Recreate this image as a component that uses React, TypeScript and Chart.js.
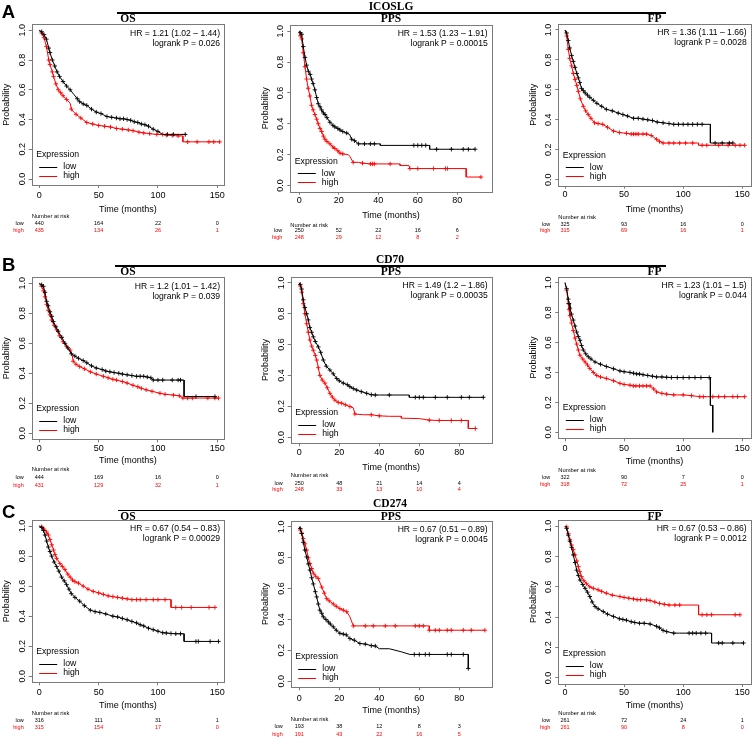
import React, { useEffect, useRef } from "react";
import { Chart, registerables } from "chart.js";
Chart.register(...registerables);

const SANS = "'Liberation Sans', Arial, Helvetica, sans-serif";
const SERIF = "'Liberation Serif', 'Times New Roman', serif";
const RED = "#ff0000";
const BLACK = "#000000";
const BOX_COLOR = "#7a7a7a";

// ---------------- data ----------------
const GENES = ["ICOSLG", "CD70", "CD274"];
const ENDPOINTS = ["OS", "PPS", "FP"];
const PANEL_LETTERS = ["A", "B", "C"];
const GROUPS = ["low", "high"];
const LEGEND_TITLE = "Expression";
const X_TITLE = "Time (months)";
const Y_TITLE = "Probability";
const RISK_TITLE = "Number at risk";
const Y_TICKS = [0, 0.2, 0.4, 0.6, 0.8, 1.0];
const X_TICKS_LONG = [0, 50, 100, 150];
const X_TICKS_PPS = [0, 20, 40, 60, 80];

// curves: [time, survival, censorMark(1)]
const ICOSLG_OS_LOW = [[0,1],[2,0.99,1],[4,0.97,1],[6,0.94,1],[8,0.88,1],[9,0.85,1],[11,0.8,1],[13,0.76,1],[15,0.72,1],[17,0.69,1],[20,0.655,1],[23,0.625,1],[26,0.6,1],[29,0.57],[32,0.54,1],[34,0.52,1],[37,0.505,1],[40,0.495,1],[44,0.47,1],[48,0.45,1],[52,0.44,1],[57,0.42,1],[61,0.415,1],[65,0.41,1],[68,0.405,1],[71,0.405,1],[74,0.4,1],[77,0.395,1],[80,0.385,1],[83,0.38,1],[86,0.37,1],[89,0.365,1],[92,0.355,1],[96,0.335,1],[100,0.32,1],[104,0.3],[108,0.3,1],[113,0.3,1],[118,0.3],[123,0.3,1]];
const ICOSLG_OS_HIGH = [[0,1],[2,0.98,1],[4,0.95,1],[6,0.89,1],[8,0.8,1],[9,0.77,1],[11,0.72,1],[12,0.69,1],[14,0.64,1],[16,0.6,1],[18,0.58,1],[20,0.56,1],[23,0.535,1],[26,0.51],[27,0.47,1],[29,0.45],[31,0.435,1],[35,0.41,1],[40,0.38,1],[45,0.37,1],[50,0.36,1],[55,0.355,1],[60,0.35,1],[65,0.34,1],[70,0.335,1],[75,0.33,1],[79,0.325,1],[84,0.315,1],[88,0.31,1],[93,0.305,1],[99,0.3,1],[104,0.3,1],[107,0.295,1],[112,0.293,1],[117,0.29,1],[121,0.29],[121,0.25],[125,0.25,1],[133,0.25,1],[143,0.25,1],[147,0.25,1],[152,0.25,1]];
const ICOSLG_PPS_LOW = [[0,1],[0.5,0.99,1],[1.2,0.98,1],[2,0.9,1],[2.9,0.83,1],[3.7,0.78,1],[4.6,0.74,1],[5.5,0.72,1],[6.2,0.69,1],[7,0.66,1],[7.9,0.62,1],[8.8,0.57,1],[9.6,0.53,1],[10.5,0.51,1],[11.3,0.49,1],[12.2,0.47,1],[13,0.46,1],[14,0.44,1],[15.5,0.41,1],[17,0.39,1],[18,0.38,1],[19.5,0.37,1],[20.6,0.36,1],[22,0.35,1],[24,0.34,1],[25.5,0.33],[26.5,0.3,1],[28,0.29,1],[30,0.27,1],[33,0.27,1],[36,0.27,1],[38,0.27,1],[41,0.27],[41,0.26],[58,0.26,1],[60,0.26,1],[62,0.26,1],[64,0.26,1],[66,0.26],[66,0.235],[69.5,0.235,1],[77,0.235,1],[83,0.235,1],[85.6,0.235,1],[89,0.235,1]];
const ICOSLG_PPS_HIGH = [[0,1],[0.5,0.97,1],[1.2,0.95,1],[2,0.86,1],[2.9,0.77,1],[3.7,0.69,1],[4.5,0.63,1],[5.4,0.58,1],[6.2,0.52,1],[7,0.49,1],[7.9,0.46,1],[8.8,0.43,1],[9.6,0.4,1],[10.5,0.37,1],[11.3,0.35,1],[12.2,0.32,1],[13,0.3,1],[14,0.285,1],[15.5,0.27,1],[17,0.25,1],[18,0.24,1],[19.5,0.225,1],[20.6,0.21,1],[22,0.205,1],[24.8,0.2],[25.5,0.19],[27.3,0.15,1],[30,0.15],[32,0.145,1],[36,0.14,1],[37,0.14,1],[38,0.14,1],[46,0.14,1],[51,0.14],[51,0.13],[55.5,0.13],[56,0.11,1],[60,0.11,1],[68,0.11,1],[74,0.11,1],[75,0.11,1],[84.5,0.11],[84.5,0.055],[92,0.055,1]];
const ICOSLG_FP_LOW = [[0,1],[1.4,0.98,1],[2.8,0.93,1],[4,0.88,1],[5.6,0.83,1],[7,0.79,1],[8.5,0.75,1],[10,0.71,1],[11.3,0.68,1],[12.5,0.65,1],[14,0.61,1],[15.5,0.595,1],[17,0.58,1],[19,0.565,1],[21,0.55,1],[24,0.53,1],[27,0.51,1],[31,0.49,1],[35,0.47,1],[40,0.46,1],[45,0.445,1],[49,0.435,1],[53,0.425,1],[58,0.41,1],[62,0.41,1],[66,0.405,1],[70,0.4,1],[74,0.395,1],[78,0.385,1],[83,0.38,1],[88,0.375,1],[92,0.37,1],[96,0.37,1],[100,0.37,1],[104,0.37,1],[108,0.37,1],[112,0.37,1],[116,0.37,1],[123,0.37],[123,0.245],[127,0.245,1],[133,0.245,1],[139,0.245,1],[142,0.245,1]];
const ICOSLG_FP_HIGH = [[0,1],[1.4,0.96,1],[2.8,0.87,1],[4,0.81,1],[5.6,0.76,1],[7,0.71,1],[8.5,0.67,1],[10,0.63,1],[11.3,0.59,1],[13,0.54,1],[15.5,0.49,1],[17.5,0.46,1],[19.7,0.435,1],[22,0.41,1],[25,0.38,1],[28,0.375,1],[32,0.37,1],[36,0.35,1],[41,0.325,1],[46,0.315,1],[52,0.31,1],[56,0.305,1],[58,0.305,1],[60,0.305,1],[62,0.305,1],[66,0.305,1],[69,0.305,1],[73,0.295,1],[77.5,0.27,1],[80,0.255,1],[83,0.245,1],[88,0.245,1],[92,0.245,1],[97,0.245,1],[102,0.245,1],[108,0.245,1],[113,0.245],[113,0.23],[116,0.23,1],[120,0.23,1],[130,0.23,1],[138,0.23,1],[144,0.23,1],[148,0.23,1],[152,0.23,1]];

const CD70_OS_LOW = [[0,1],[2,0.99,1],[3.5,0.98,1],[4.8,0.94,1],[6.2,0.88,1],[7.5,0.85,1],[9,0.81,1],[10.5,0.78,1],[11.8,0.745,1],[14,0.71,1],[16,0.68,1],[19,0.64,1],[21.6,0.6,1],[24,0.57,1],[27,0.53,1],[30,0.515,1],[33,0.5,1],[37,0.485,1],[40,0.47,1],[44,0.45,1],[48,0.435,1],[53,0.425,1],[56,0.415,1],[59.5,0.41,1],[63,0.405,1],[67,0.4,1],[70,0.395,1],[74,0.39,1],[78,0.385,1],[82,0.38,1],[85,0.38,1],[88,0.38,1],[91,0.375,1],[94,0.37,1],[96,0.355,1],[100,0.355,1],[104,0.355,1],[112,0.355,1],[117,0.355,1],[119,0.355,1],[122,0.355],[122,0.245],[132,0.245,1],[148,0.245,1]];
const CD70_OS_HIGH = [[0,1],[2,0.98,1],[3.5,0.95,1],[4.8,0.91,1],[6.2,0.86,1],[7.6,0.82,1],[9,0.79,1],[10.4,0.755,1],[12.5,0.72,1],[14.6,0.69,1],[17,0.65,1],[20,0.61,1],[23,0.58,1],[26,0.555,1],[27.5,0.53],[28.6,0.48,1],[31,0.46,1],[34,0.445,1],[38,0.43,1],[43,0.41,1],[48,0.395,1],[54,0.38,1],[58,0.37,1],[62,0.36,1],[65,0.355,1],[70,0.345,1],[74,0.335,1],[79,0.32,1],[83,0.31,1],[86,0.3,1],[90,0.29,1],[95,0.28,1],[101.7,0.267,1],[106,0.26,1],[113,0.255,1],[118,0.25,1],[121,0.235,1],[125,0.235,1],[129,0.235,1],[142,0.235,1],[148,0.235,1],[151,0.235,1]];
const CD70_PPS_LOW = [[0,1],[0.5,0.99,1],[1.2,0.96,1],[2,0.89,1],[2.8,0.84,1],[3.7,0.8,1],[4.5,0.76,1],[5.3,0.71,1],[6.2,0.68,1],[7,0.65,1],[8,0.62,1],[9.5,0.585,1],[10.7,0.55,1],[12,0.5,1],[13.5,0.46,1],[15.3,0.435,1],[17,0.41,1],[18.7,0.38,1],[20,0.365,1],[22,0.35,1],[24,0.34,1],[25.3,0.327,1],[27,0.315,1],[28.7,0.305,1],[31,0.295,1],[33.7,0.284,1],[36,0.275,1],[38,0.273,1],[40,0.273],[45,0.273,1],[55,0.273],[55,0.258],[58,0.258,1],[60,0.258,1],[62,0.258,1],[68,0.258,1],[74,0.258,1],[81,0.258,1],[85,0.258,1],[92,0.258,1]];
const CD70_PPS_HIGH = [[0,1],[0.5,0.98,1],[1.2,0.94,1],[2,0.865,1],[2.8,0.8,1],[3.7,0.735,1],[4.5,0.68,1],[5.3,0.63,1],[6.2,0.59,1],[7,0.563,1],[8,0.53,1],[8.7,0.5,1],[9.5,0.45,1],[10.3,0.4,1],[11.5,0.37,1],[12.8,0.35,1],[14,0.32,1],[15.3,0.284,1],[16.5,0.26,1],[17.8,0.24,1],[19.5,0.225,1],[21.2,0.22,1],[23,0.21,1],[25.3,0.198,1],[27,0.19],[27.8,0.15,1],[32,0.145],[36,0.145,1],[40,0.138,1],[45,0.135],[51,0.135],[51,0.123],[60,0.12],[65,0.11,1],[70,0.108,1],[76,0.108,1],[81,0.108,1],[84.5,0.108],[84.5,0.056],[88,0.056,1]];
const CD70_FP_LOW = [[0,1],[1.4,0.96,1],[2.8,0.89,1],[3.5,0.86,1],[4.2,0.83,1],[5.5,0.79,1],[7,0.75,1],[8.5,0.71,1],[9.9,0.67,1],[11.3,0.64,1],[12.7,0.615,1],[14,0.58,1],[15.5,0.55,1],[17.5,0.525,1],[19.7,0.505,1],[22,0.49,1],[25.4,0.47,1],[30,0.455,1],[35,0.44,1],[41,0.425,1],[46.5,0.41,1],[50,0.405,1],[55,0.4,1],[58,0.395,1],[60.6,0.39,1],[63,0.39,1],[66,0.385,1],[70,0.38,1],[74,0.375,1],[77.5,0.37,1],[82,0.37,1],[86,0.368,1],[90,0.366,1],[95,0.366,1],[100,0.366,1],[105,0.366,1],[110,0.366,1],[115,0.366,1],[122,0.366,1],[123,0.366],[123,0.18],[125,0.18],[125,0]];
const CD70_FP_HIGH = [[0,1],[1.4,0.95,1],[2.8,0.86,1],[3.5,0.82,1],[4.2,0.78,1],[5.5,0.73,1],[7,0.68,1],[8.5,0.63,1],[9.9,0.59,1],[11.3,0.55,1],[12.7,0.515,1],[15,0.49,1],[17,0.47,1],[19,0.45,1],[21,0.427,1],[24,0.4,1],[26.8,0.38,1],[30,0.37,1],[35,0.36,1],[41,0.345,1],[46.5,0.327,1],[50,0.32,1],[55,0.315,1],[57.8,0.31,1],[60,0.31,1],[63,0.31,1],[66,0.31,1],[69,0.31,1],[72,0.31,1],[75,0.29,1],[77.5,0.27,1],[82,0.26,1],[86,0.255,1],[92,0.25,1],[100,0.25,1],[107,0.245,1],[112,0.24],[114,0.238,1],[117,0.238,1],[125,0.238,1],[130,0.238,1],[135,0.238,1],[142,0.238,1],[146,0.238,1],[152,0.238,1]];

const CD274_OS_LOW = [[0,1],[2,0.99,1],[3.5,0.97,1],[4.8,0.94,1],[6.2,0.9,1],[7.6,0.86,1],[9,0.83,1],[10.4,0.8,1],[12.5,0.76,1],[14.6,0.73,1],[16.5,0.7,1],[18.8,0.66,1],[21,0.635,1],[23,0.61,1],[25,0.58,1],[27,0.55,1],[30,0.525,1],[34,0.5,1],[38,0.47,1],[43,0.44,1],[47,0.43,1],[51,0.425,1],[56,0.415,1],[62,0.4,1],[66,0.395,1],[70,0.385,1],[74,0.376,1],[78,0.365,1],[82,0.355,1],[85,0.343,1],[88,0.335,1],[92,0.32,1],[96,0.31,1],[100,0.3,1],[104,0.29,1],[107,0.288,1],[111,0.285,1],[115,0.283,1],[119,0.283,1],[122,0.283],[122,0.232],[132,0.232,1],[134,0.232,1],[144,0.232,1],[151,0.232,1]];
const CD274_OS_HIGH = [[0,1],[2,0.995,1],[4,0.98,1],[6.2,0.96,1],[7.6,0.94,1],[9,0.91,1],[10.5,0.875,1],[12,0.84,1],[13.3,0.81,1],[14.6,0.785,1],[17.4,0.75,1],[19.5,0.73,1],[21.6,0.71,1],[24,0.68,1],[26,0.66,1],[28,0.64,1],[30,0.63,1],[33,0.62,1],[37,0.6,1],[41,0.58,1],[45.5,0.565,1],[50,0.555,1],[54,0.545,1],[58,0.535,1],[62,0.53,1],[66,0.525,1],[70,0.52,1],[74,0.515,1],[78,0.51,1],[82,0.51,1],[85,0.51,1],[90,0.51,1],[96,0.51,1],[100,0.51,1],[106,0.51,1],[111,0.51],[111,0.458],[115,0.458,1],[120,0.458,1],[128,0.458,1],[143,0.458,1],[148,0.458,1]];
const CD274_PPS_LOW = [[0,1],[0.5,0.99,1],[1.2,0.957,1],[2,0.9,1],[2.8,0.85,1],[3.7,0.805,1],[4.5,0.76,1],[5.3,0.72,1],[6.2,0.67,1],[7,0.63,1],[8,0.58,1],[8.7,0.546,1],[9.5,0.5,1],[10.3,0.46,1],[11.2,0.44,1],[12,0.417,1],[13.3,0.4,1],[14.5,0.384,1],[15.5,0.37,1],[17,0.352,1],[18.5,0.33,1],[20.3,0.31,1],[22,0.305,1],[23.5,0.3,1],[25.3,0.276,1],[27.5,0.265,1],[30.3,0.244,1],[33,0.24,1],[36,0.23,1],[38,0.228,1],[40,0.21],[45,0.21],[51,0.19],[55.3,0.173],[57.5,0.173,1],[60,0.173,1],[63,0.173,1],[65,0.173,1],[74,0.173,1],[76,0.173,1],[82,0.173,1],[84.5,0.173],[84.5,0.082,1]];
const CD274_PPS_HIGH = [[0,1],[0.5,0.98,1],[1.2,0.96,1],[2,0.924,1],[2.8,0.89,1],[3.7,0.85,1],[4.5,0.8,1],[5.3,0.762,1],[6.2,0.73,1],[7,0.7,1],[8.2,0.68,1],[9.5,0.665,1],[11.2,0.61,1],[12.5,0.57,1],[13.7,0.535,1],[15,0.52,1],[17,0.5,1],[18.5,0.485,1],[20.3,0.47,1],[22,0.46,1],[23.7,0.45,1],[25.3,0.417],[27,0.358,1],[33,0.358,1],[37,0.358,1],[43,0.358,1],[48,0.358,1],[58,0.358,1],[60,0.358,1],[62,0.358,1],[65,0.358],[65,0.33,1],[68,0.33,1],[70,0.33,1],[74,0.33,1],[76,0.33,1],[82,0.33,1],[86,0.33,1],[92.8,0.33,1]];
const CD274_FP_LOW = [[0,1],[1.4,0.985,1],[2.8,0.94,1],[4.2,0.9,1],[5.5,0.86,1],[7,0.81,1],[8.5,0.76,1],[9.9,0.71,1],[11.3,0.675,1],[12.7,0.645,1],[15,0.615,1],[17,0.59,1],[19,0.565,1],[21,0.536,1],[23,0.5,1],[25.4,0.47,1],[28,0.455,1],[32.4,0.437,1],[36,0.42,1],[41,0.405,1],[46,0.39,1],[49,0.385,1],[52,0.38,1],[56,0.37,1],[59,0.365,1],[63,0.36,1],[67,0.36,1],[72,0.355,1],[77.5,0.34,1],[80,0.33,1],[83,0.313,1],[86,0.305,1],[92,0.295,1],[97,0.295],[105,0.295,1],[108,0.295,1],[111,0.295,1],[115,0.295,1],[119,0.295,1],[124,0.295],[124,0.23],[130,0.23,1],[133,0.23,1],[142,0.23,1],[151,0.23,1]];
const CD274_FP_HIGH = [[0,1],[1.4,0.995,1],[2.8,0.95,1],[4.2,0.91,1],[5.6,0.875,1],[7,0.845,1],[8.5,0.81,1],[10,0.77,1],[11.3,0.733,1],[12.5,0.7,1],[14,0.667,1],[16,0.64,1],[18.3,0.62,1],[21,0.6,1],[24,0.59,1],[28,0.58,1],[31,0.57,1],[35,0.558,1],[40,0.545,1],[46.5,0.536,1],[50,0.53,1],[54,0.525,1],[58,0.52,1],[61,0.515,1],[64,0.515,1],[69,0.514,1],[72,0.51,1],[76,0.5,1],[80,0.49,1],[84,0.485,1],[88,0.48,1],[93,0.48,1],[97,0.48,1],[113,0.48],[113,0.416],[116,0.416,1],[120,0.416,1],[124,0.416,1],[144,0.416,1],[148,0.416,1]];

// numbers at risk
const ICOSLG_OS_RISK_LOW = [440, 164, 22, 0];
const ICOSLG_OS_RISK_HIGH = [435, 134, 26, 1];
const ICOSLG_PPS_RISK_LOW = [250, 52, 22, 16, 6];
const ICOSLG_PPS_RISK_HIGH = [248, 29, 12, 8, 2];
const ICOSLG_FP_RISK_LOW = [325, 93, 16, 0];
const ICOSLG_FP_RISK_HIGH = [315, 69, 16, 1];
const CD70_OS_RISK_LOW = [444, 169, 16, 0];
const CD70_OS_RISK_HIGH = [431, 129, 32, 1];
const CD70_PPS_RISK_LOW = [250, 48, 21, 14, 4];
const CD70_PPS_RISK_HIGH = [248, 33, 13, 10, 4];
const CD70_FP_RISK_LOW = [322, 90, 7, 0];
const CD70_FP_RISK_HIGH = [318, 72, 25, 1];
const CD274_OS_RISK_LOW = [316, 111, 31, 1];
const CD274_OS_RISK_HIGH = [315, 154, 17, 0];
const CD274_PPS_RISK_LOW = [193, 38, 12, 8, 3];
const CD274_PPS_RISK_HIGH = [191, 43, 22, 16, 5];
const CD274_FP_RISK_LOW = [261, 72, 24, 1];
const CD274_FP_RISK_HIGH = [261, 90, 8, 0];

// statistics text
const ICOSLG_OS_STATS = ["HR = 1.21 (1.02 \u2013 1.44)", "logrank P = 0.026"];
const ICOSLG_PPS_STATS = ["HR = 1.53 (1.23 \u2013 1.91)", "logrank P = 0.00015"];
const ICOSLG_FP_STATS = ["HR = 1.36 (1.11 \u2013 1.66)", "logrank P = 0.0028"];
const CD70_OS_STATS = ["HR = 1.2 (1.01 \u2013 1.42)", "logrank P = 0.039"];
const CD70_PPS_STATS = ["HR = 1.49 (1.2 \u2013 1.86)", "logrank P = 0.00035"];
const CD70_FP_STATS = ["HR = 1.23 (1.01 \u2013 1.5)", "logrank P = 0.044"];
const CD274_OS_STATS = ["HR = 0.67 (0.54 \u2013 0.83)", "logrank P = 0.00029"];
const CD274_PPS_STATS = ["HR = 0.67 (0.51 \u2013 0.89)", "logrank P = 0.0045"];
const CD274_FP_STATS = ["HR = 0.67 (0.53 \u2013 0.86)", "logrank P = 0.0012"];

// ---------------- layout (pixels) ----------------
const PANEL_LAYOUT = [
  { box: [31.7, 24.3, 224, 185], x0: 39.3, xt: 217.3, tickDy: 10.7, titleDy: 25, narDy: 31, lowDy: 38.3, highDy: 45.7 },
  { box: [290.3, 25, 491.7, 191.7], x0: 299.3, xt: 457.3, tickDy: 8.6, titleDy: 24.3, narDy: 33.3, lowDy: 39, highDy: 45.6 },
  { box: [558.3, 24, 750.7, 185.7], x0: 565, xt: 742.3, tickDy: 9.3, titleDy: 24.3, narDy: 31.6, lowDy: 38.3, highDy: 44.3 },
  { box: [31.7, 277.3, 224, 439.3], x0: 39.3, xt: 217.3, tickDy: 9.7, titleDy: 21.4, narDy: 30, lowDy: 38, highDy: 45.7 },
  { box: [290.7, 276.7, 491.7, 443.3], x0: 299.3, xt: 459.3, tickDy: 9.4, titleDy: 24, narDy: 31.7, lowDy: 40, highDy: 46 },
  { box: [558.3, 276.7, 750.7, 438.3], x0: 565, xt: 742.3, tickDy: 10.7, titleDy: 23.4, narDy: 31.7, lowDy: 39, highDy: 45.7 },
  { box: [31.7, 520, 224, 682.3], x0: 39.3, xt: 217.3, tickDy: 10, titleDy: 23.7, narDy: 31, lowDy: 37.7, highDy: 45 },
  { box: [290.7, 520.7, 491.7, 687.3], x0: 299.3, xt: 459.3, tickDy: 11, titleDy: 23.4, narDy: 32, lowDy: 39.4, highDy: 46.7 },
  { box: [558.3, 520, 750.7, 684], x0: 565, xt: 742.3, tickDy: 8.7, titleDy: 22, narDy: 29.3, lowDy: 36, highDy: 43.3 },
];
const GENE_TITLE_POS = [
  { x: 391, y: 6.5, lineY: 13, x1: 117, x2: 666 },
  { x: 390, y: 259.5, lineY: 266, x1: 115, x2: 666 },
  { x: 390, y: 503.5, lineY: 510.5, x1: 118, x2: 663 },
];
const ENDPOINT_TITLE_Y = [19.3, 272.3, 516.7];
const ENDPOINT_TITLE_X = [128, 391, 654.5];
const LETTER_POS = [
  { x: 8.5, y: 11.7 },
  { x: 8.8, y: 264.5 },
  { x: 8.8, y: 511.7 },
];

const PANELS = [
  { low: ICOSLG_OS_LOW, high: ICOSLG_OS_HIGH, ticks: X_TICKS_LONG, rl: ICOSLG_OS_RISK_LOW, rh: ICOSLG_OS_RISK_HIGH, stats: ICOSLG_OS_STATS },
  { low: ICOSLG_PPS_LOW, high: ICOSLG_PPS_HIGH, ticks: X_TICKS_PPS, rl: ICOSLG_PPS_RISK_LOW, rh: ICOSLG_PPS_RISK_HIGH, stats: ICOSLG_PPS_STATS },
  { low: ICOSLG_FP_LOW, high: ICOSLG_FP_HIGH, ticks: X_TICKS_LONG, rl: ICOSLG_FP_RISK_LOW, rh: ICOSLG_FP_RISK_HIGH, stats: ICOSLG_FP_STATS },
  { low: CD70_OS_LOW, high: CD70_OS_HIGH, ticks: X_TICKS_LONG, rl: CD70_OS_RISK_LOW, rh: CD70_OS_RISK_HIGH, stats: CD70_OS_STATS },
  { low: CD70_PPS_LOW, high: CD70_PPS_HIGH, ticks: X_TICKS_PPS, rl: CD70_PPS_RISK_LOW, rh: CD70_PPS_RISK_HIGH, stats: CD70_PPS_STATS },
  { low: CD70_FP_LOW, high: CD70_FP_HIGH, ticks: X_TICKS_LONG, rl: CD70_FP_RISK_LOW, rh: CD70_FP_RISK_HIGH, stats: CD70_FP_STATS },
  { low: CD274_OS_LOW, high: CD274_OS_HIGH, ticks: X_TICKS_LONG, rl: CD274_OS_RISK_LOW, rh: CD274_OS_RISK_HIGH, stats: CD274_OS_STATS },
  { low: CD274_PPS_LOW, high: CD274_PPS_HIGH, ticks: X_TICKS_PPS, rl: CD274_PPS_RISK_LOW, rh: CD274_PPS_RISK_HIGH, stats: CD274_PPS_STATS },
  { low: CD274_FP_LOW, high: CD274_FP_HIGH, ticks: X_TICKS_LONG, rl: CD274_FP_RISK_LOW, rh: CD274_FP_RISK_HIGH, stats: CD274_FP_STATS },
];

const WY = 30;
const PAD_R = 12;
const PAD_T = 4;
const TICK_LEN = 3;
const TICK_FONT = 9;
const TITLE_FONT = 9;

function KMPanel({ lay, panel }: any) {
  const ref = useRef<HTMLCanvasElement>(null);
  const [l, t, r, b] = lay.box;
  const cl = Math.floor(l - WY);
  const ct = Math.floor(t - PAD_T);
  const wy = l - cl;
  const padTop = t - ct;
  const hx = lay.titleDy + (TITLE_FONT * 1.2) / 2;
  const cw = Math.ceil(r - cl + PAD_R);
  const ch = Math.ceil(b - ct + lay.highDy + 6);
  const padRight = cw - (r - cl);
  const padBottom = ch - (b - ct) - hx;

  useEffect(() => {
    const canvas = ref.current;
    if (!canvas) return;
    const ticks: number[] = panel.ticks;
    const tv = ticks[ticks.length - 1];
    const ppu = (lay.xt - lay.x0) / tv;
    const xmin = (l - lay.x0) / ppu;
    const xmax = (r - lay.x0) / ppu;
    const toPts = (arr: number[][]) => arr.map((p) => ({ x: p[0], y: p[1], c: p[2] === 1 }));
    const mk = (label: string, arr: number[][], color: string) => ({
      label,
      data: toPts(arr),
      borderColor: color,
      backgroundColor: color,
      borderWidth: 1,
      pointStyle: "cross",
      pointRadius: (c: any) => (c.raw && c.raw.c ? 2.2 : 0),
      pointHoverRadius: 0,
      pointBorderColor: color,
      pointBorderWidth: 0.9,
      tension: 0,
      fill: false,
    });
    const tickPad = lay.tickDy - TICK_LEN - (TICK_FONT * 1.2) / 2;

    const overlay = {
      id: "kmOverlay",
      beforeDatasetsDraw(chart: any) {
        const { ctx, chartArea: a } = chart;
        ctx.save();
        ctx.strokeStyle = BOX_COLOR;
        ctx.lineWidth = 1;
        const L = Math.round(a.left) + 0.5, T = Math.round(a.top) + 0.5;
        const R = Math.round(a.right) + 0.5, B = Math.round(a.bottom) + 0.5;
        ctx.strokeRect(L, T, R - L, B - T);
        ctx.restore();
      },
      afterDraw(chart: any) {
        const { ctx, chartArea: a, scales } = chart;
        ctx.save();
        // y tick labels (rotated, R style)
        ctx.fillStyle = BLACK;
        ctx.font = `${TICK_FONT}px ${SANS}`;
        ctx.textAlign = "center";
        ctx.textBaseline = "middle";
        for (const v of Y_TICKS) {
          const y = scales.y.getPixelForValue(v);
          ctx.save();
          ctx.translate(a.left - 9.5, y);
          ctx.rotate(-Math.PI / 2);
          ctx.fillText(v.toFixed(1), 0, 0);
          ctx.restore();
        }
        // statistics
        ctx.font = `8.6px ${SANS}`;
        ctx.textAlign = "right";
        ctx.fillText(panel.stats[0], a.right - 4, a.top + 9);
        ctx.fillText(panel.stats[1], a.right - 4, a.top + 19);
        // legend
        ctx.font = `8.7px ${SANS}`;
        ctx.textAlign = "left";
        ctx.fillText(LEGEND_TITLE, a.left + 4.5, a.bottom - 30.5);
        const rows = [
          { label: GROUPS[0], color: BLACK, dy: -18.5 },
          { label: GROUPS[1], color: RED, dy: -9.5 },
        ];
        for (const row of rows) {
          const y = a.bottom + row.dy;
          ctx.strokeStyle = row.color;
          ctx.lineWidth = 1;
          ctx.beginPath();
          ctx.moveTo(a.left + 7.5, Math.round(y) + 0.5);
          ctx.lineTo(a.left + 25.5, Math.round(y) + 0.5);
          ctx.stroke();
          ctx.fillStyle = BLACK;
          ctx.fillText(row.label, a.left + 31.5, y);
        }
        // numbers at risk
        ctx.font = `5.8px ${SANS}`;
        ctx.fillStyle = BLACK;
        ctx.textAlign = "left";
        ctx.fillText(RISK_TITLE, a.left, a.bottom + lay.narDy);
        ctx.font = `5.5px ${SANS}`;
        ctx.textAlign = "right";
        ctx.fillText(GROUPS[0], a.left - 8, a.bottom + lay.lowDy);
        ctx.fillStyle = RED;
        ctx.fillText(GROUPS[1], a.left - 8, a.bottom + lay.highDy);
        ctx.textAlign = "center";
        ticks.forEach((tk, i) => {
          const x = scales.x.getPixelForValue(tk);
          ctx.fillStyle = BLACK;
          ctx.fillText(String(panel.rl[i]), x, a.bottom + lay.lowDy);
          ctx.fillStyle = RED;
          ctx.fillText(String(panel.rh[i]), x, a.bottom + lay.highDy);
        });
        ctx.restore();
      },
    };

    const gridOpts = {
      display: true,
      drawOnChartArea: false,
      drawTicks: true,
      tickLength: TICK_LEN,
      color: BOX_COLOR,
      lineWidth: 1,
    };

    const chart = new Chart(canvas, {
      type: "line",
      data: { datasets: [mk(GROUPS[0], panel.low, BLACK), mk(GROUPS[1], panel.high, RED)] as any },
      options: {
        responsive: false,
        animation: false,
        events: [],
        layout: { padding: { left: 0, top: padTop, right: padRight, bottom: padBottom } },
        plugins: { legend: { display: false }, tooltip: { enabled: false } },
        scales: {
          x: {
            type: "linear",
            min: xmin,
            max: xmax,
            afterBuildTicks: (s: any) => {
              s.ticks = ticks.map((v) => ({ value: v }));
            },
            afterFit: (s: any) => {
              s.height = hx;
            },
            grid: gridOpts,
            border: { display: false },
            ticks: {
              font: { size: TICK_FONT, family: SANS },
              color: BLACK,
              padding: tickPad,
              maxRotation: 0,
              minRotation: 0,
              autoSkip: false,
              callback: (v: any) => String(v),
            },
            title: { display: true, text: X_TITLE, font: { size: TITLE_FONT, family: SANS }, color: BLACK, padding: 0 },
          },
          y: {
            type: "linear",
            min: -0.04,
            max: 1.04,
            afterBuildTicks: (s: any) => {
              s.ticks = Y_TICKS.map((v) => ({ value: v }));
            },
            afterFit: (s: any) => {
              s.width = wy;
            },
            grid: gridOpts,
            border: { display: false },
            ticks: { display: false },
            title: { display: true, text: Y_TITLE, font: { size: TITLE_FONT, family: SANS }, color: BLACK, padding: 0 },
          },
        },
      } as any,
      plugins: [overlay],
    });
    return () => chart.destroy();
  }, []);

  return (
    <canvas
      ref={ref}
      width={cw}
      height={ch}
      style={{ position: "absolute", left: cl, top: ct, width: cw, height: ch, display: "block" }}
    />
  );
}

function Txt({ x, y, size, bold, serif, children }: any) {
  return (
    <div
      style={{
        position: "absolute",
        left: x,
        top: y,
        transform: "translate(-50%, -50%)",
        fontFamily: serif ? SERIF : SANS,
        fontSize: size,
        fontWeight: bold ? 700 : 400,
        lineHeight: 1,
        whiteSpace: "nowrap",
        color: "#000",
      }}
    >
      {children}
    </div>
  );
}

export default function App() {
  return (
    <div
      style={{
        position: "absolute",
        left: 0,
        top: 0,
        width: 753,
        height: 739,
        overflow: "hidden",
        background: "#fff",
      }}
    >
      {PANELS.map((p, i) => (
        <KMPanel key={i} lay={PANEL_LAYOUT[i]} panel={p} />
      ))}
      {GENES.map((g, row) => {
        const gp = GENE_TITLE_POS[row];
        return (
          <React.Fragment key={g}>
            <Txt x={LETTER_POS[row].x} y={LETTER_POS[row].y} size={18.5} bold>
              {PANEL_LETTERS[row]}
            </Txt>
            <Txt x={gp.x} y={gp.y} size={11.5} bold serif>
              {g}
            </Txt>
            <div
              style={{
                position: "absolute",
                left: gp.x1,
                top: gp.lineY - 1,
                width: gp.x2 - gp.x1,
                height: 1.5,
                background: "#000",
              }}
            />
            {ENDPOINTS.map((e, col) => (
              <Txt key={e} x={ENDPOINT_TITLE_X[col]} y={ENDPOINT_TITLE_Y[row]} size={11.5} bold serif>
                {e}
              </Txt>
            ))}
          </React.Fragment>
        );
      })}
    </div>
  );
}
